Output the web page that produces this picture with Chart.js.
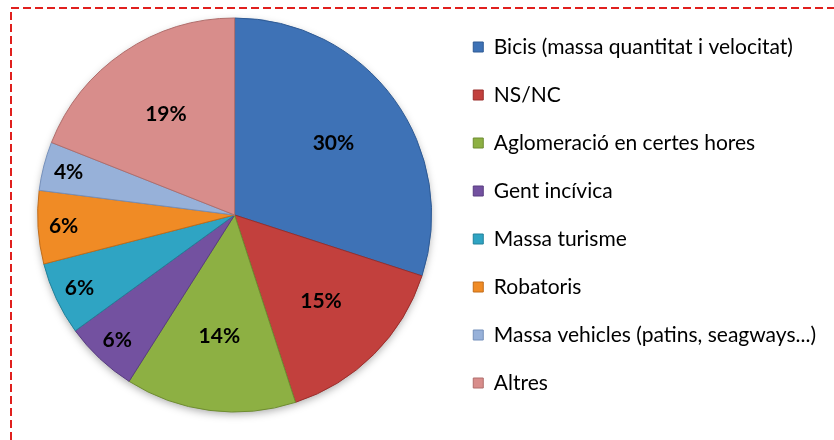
<!DOCTYPE html>
<html>
<head>
<meta charset="utf-8">
<script src="https://cdn.jsdelivr.net/npm/chart.js@4/dist/chart.umd.min.js"></script>
<style>
  html, body { margin: 0; padding: 0; background: #fff; }
  #wrap { width: 834px; height: 440px; position: relative; }
</style>
</head>
<body>
<div id="wrap"><canvas id="chart"></canvas></div>
<script>
// Data
const categories = [
    'Bicis (massa quantitat i velocitat)',
    'NS/NC',
    'Aglomeració en certes hores',
    'Gent incívica',
    'Massa turisme',
    'Robatoris',
    'Massa vehicles (patins, seagways...)',
    'Altres'
];
const percentages = [30, 15, 14, 6, 6, 6, 4, 19];

const sliceColors = ['#3E72B6', '#C2403D', '#8DB043', '#7351A0', '#2FA4C3', '#F08B25', '#97B1D9', '#D88D8B'];
const sliceEdges = ['#2E5A94', '#9A2E2C', '#6E8C30', '#583C80', '#22819A', '#C26C18', '#7590BB', '#B06E6C'];

// dashed red frame around the whole picture
const framePlugin = {
    id: 'frame',
    beforeDraw: function (chart) {
        const ctx = chart.ctx;
        ctx.save();
        ctx.strokeStyle = '#E0201E';
        ctx.lineWidth = 2;
        ctx.setLineDash([8, 4]);
        ctx.strokeRect(11, 8, chart.width + 20, chart.height + 20);
        ctx.restore();
    }
};

// soft shadow under the pie
const shadowPlugin = {
    id: 'pieShadow',
    beforeDatasetsDraw: function (chart) {
        const arc = chart.getDatasetMeta(0).data[0];
        if (!arc) return;
        const p = arc.getProps(['x', 'y', 'outerRadius'], true);
        const ctx = chart.ctx;
        ctx.save();
        ctx.shadowColor = 'rgba(0,0,0,0.35)';
        ctx.shadowBlur = 8;
        ctx.shadowOffsetY = 3;
        ctx.fillStyle = '#ffffff';
        ctx.beginPath();
        ctx.arc(p.x, p.y, p.outerRadius - 1, 0, Math.PI * 2);
        ctx.fill();
        ctx.restore();
    }
};

// percentage labels inside the slices
const labelPlugin = {
    id: 'pctLabels',
    afterDatasetsDraw: function (chart) {
        const ctx = chart.ctx;
        const values = chart.data.datasets[0].data;
        ctx.save();
        ctx.font = 'bold 21px Lato, sans-serif';
        ctx.fillStyle = '#000';
        ctx.textAlign = 'center';
        ctx.textBaseline = 'middle';
        chart.getDatasetMeta(0).data.forEach(function (arc, i) {
            const p = arc.getProps(['x', 'y', 'startAngle', 'endAngle', 'outerRadius'], true);
            const mid = (p.startAngle + p.endAngle) / 2;
            const r = p.outerRadius * (values[i] < 10 ? 0.87 : 0.62);
            ctx.fillText(values[i] + '%', p.x + Math.cos(mid) * r, p.y + Math.sin(mid) * r);
        });
        ctx.restore();
    }
};

new Chart(document.getElementById('chart'), {
    type: 'pie',
    data: {
        labels: categories,
        datasets: [{
            data: percentages,
            backgroundColor: sliceColors,
            borderColor: sliceEdges,
            borderWidth: 1,
            radius: 197
        }]
    },
    options: {
        responsive: true,
        maintainAspectRatio: false,
        animation: false,
        layout: { padding: { left: 23, right: 8, top: 0, bottom: 10 } },
        plugins: {
            legend: {
                position: 'right',
                labels: {
                    boxWidth: 10,
                    boxHeight: 10,
                    padding: 27,
                    color: '#000',
                    font: { size: 21, family: 'Lato, sans-serif' }
                }
            },
            tooltip: { enabled: false }
        }
    },
    plugins: [framePlugin, shadowPlugin, labelPlugin]
});
</script>
</body>
</html>
